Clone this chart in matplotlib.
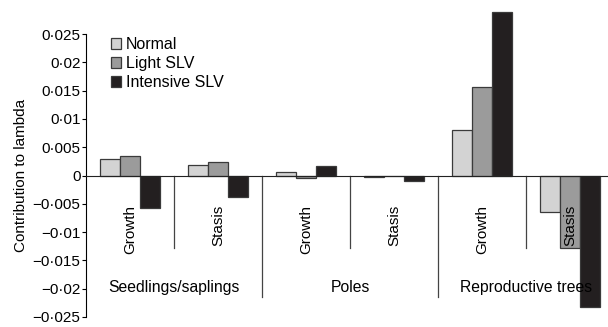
import matplotlib
matplotlib.use('Agg')
import matplotlib.pyplot as plt
from matplotlib.ticker import FuncFormatter
import numpy as np

# Contributions to lambda by stage, vital rate and treatment
stages = ['Seedlings/saplings', 'Poles', 'Reproductive trees']
rates = ['Growth', 'Stasis', 'Growth', 'Stasis', 'Growth', 'Stasis']
normal = [0.0030, 0.0018, 0.0007, -0.0003, 0.0081, -0.0065]
light_slv = [0.0035, 0.0023, -0.0004, -0.0001, 0.0156, -0.0128]
intensive_slv = [-0.0058, -0.0038, 0.0016, -0.0010, 0.0288, -0.0232]
yticks = [0.025, 0.02, 0.015, 0.01, 0.005, 0, -0.005, -0.01, -0.015, -0.02, -0.025]

plt.rcParams['font.family'] = ['Liberation Sans', 'DejaVu Sans']

fig = plt.figure(figsize=(6.08, 3.27), dpi=100)
ax = fig.add_axes([86 / 608, 10 / 327, 528 / 608, 283 / 327])

x = np.arange(len(rates)) + 0.5
w = 20 / 88
series = [(normal, '#d3d3d3', 'Normal'),
          (light_slv, '#9b9b9b', 'Light SLV'),
          (intensive_slv, '#231f20', 'Intensive SLV')]
for k, (vals, col, lab) in enumerate(series):
    ax.bar(x + (k - 1) * w, vals, width=w, color=col, edgecolor='#3a3a3a',
           linewidth=0.9, label=lab, clip_on=False, zorder=2)

ax.set_xlim(0, 6)
ax.set_ylim(-0.025, 0.025)
ax.set_yticks(yticks)


def fmt(v, pos):
    if abs(v) < 1e-12:
        return '0'
    s = ('%g' % abs(v)).replace('.', '\u00b7')
    return ('\u2212' if v < 0 else '') + s


ax.yaxis.set_major_formatter(FuncFormatter(fmt))
ax.tick_params(axis='y', direction='out', length=3, width=0.8, labelsize=11, pad=1)
ax.tick_params(axis='x', bottom=False, labelbottom=False)

for side in ['top', 'right', 'bottom']:
    ax.spines[side].set_visible(False)
ax.spines['left'].set_linewidth(0.8)
ax.axhline(0, color='#222222', linewidth=0.8, zorder=3)

# separators between rates and stages
for b in range(1, 6):
    bottom = -0.0214 if b % 2 == 0 else -0.0128
    ax.plot([b, b], [0, bottom], color='#444444', linewidth=0.9, zorder=1)

for xi, r in zip(x, rates):
    ax.text(xi, -0.0052, r, rotation=90, ha='center', va='top',
            fontsize=11, zorder=4)
for i, s in enumerate(stages):
    ax.text(2 * i + 1, -0.0198, s, ha='center', va='center', fontsize=11.3, zorder=4)

ax.set_ylabel('Contribution to lambda', fontsize=11, labelpad=3)

ax.legend(loc='upper left', bbox_to_anchor=(0.035, 1.012), frameon=False,
          fontsize=11.5, handlelength=0.65, handleheight=0.65, handletextpad=0.3,
          labelspacing=0.25, borderaxespad=0)

fig.savefig('out.png', dpi=100)
